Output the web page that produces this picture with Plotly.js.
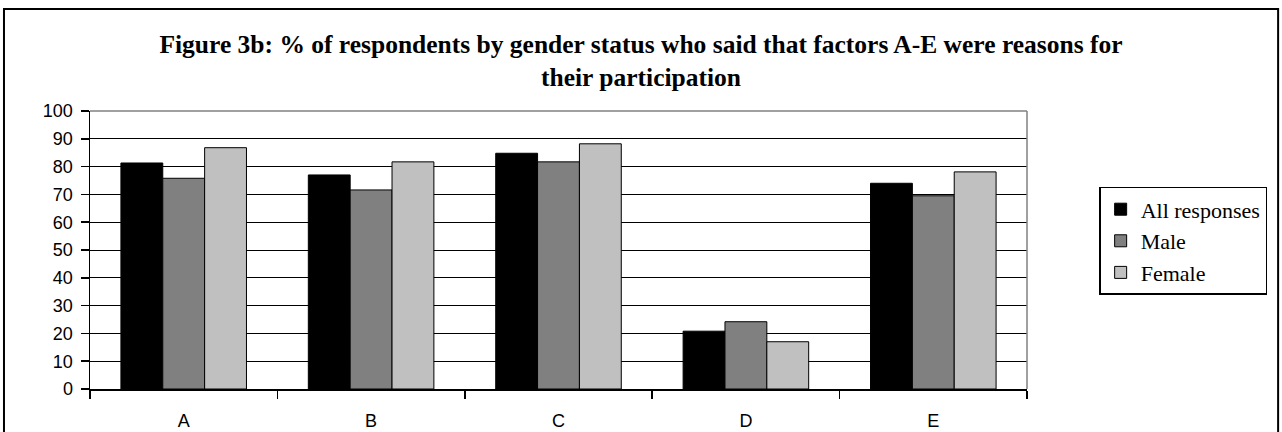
<!DOCTYPE html>
<html>
<head>
<meta charset="utf-8">
<script src="https://cdn.plot.ly/plotly-3.0.1.min.js"></script>
<style>html,body{margin:0;padding:0;background:#fff;}#chart{width:1282px;height:432px;}</style>
</head>
<body>
<div id="chart"></div>
<script>
const categories = ["A", "B", "C", "D", "E"];
const allResponses = [81.3, 77.0, 84.8, 20.8, 74.0];
const male = [75.8, 71.6, 81.7, 24.2, 69.5];
const female = [86.8, 81.7, 88.2, 17.0, 78.1];
const seriesNames = ["All responses", "Male", "Female"];
const seriesColors = ["#000000", "#808080", "#C0C0C0"];
const titleText = "Figure 3b: % of respondents by gender status who said that factors A-E were reasons for<br>their participation";

const seriesValues = [allResponses, male, female];
const traces = seriesValues.map((vals, i) => ({
  type: "bar",
  name: seriesNames[i],
  x: categories,
  y: vals,
  marker: {color: seriesColors[i], line: {color: "#000000", width: 1}},
  hoverinfo: "x+y+name"
}));

const layout = {
  width: 1282,
  height: 432,
  margin: {l: 90, r: 255, t: 111, b: 43, pad: 0},
  paper_bgcolor: "#ffffff",
  plot_bgcolor: "#ffffff",
  barmode: "group",
  bargap: 0.33,
  bargroupgap: 0,
  title: {
    text: titleText,
    x: 0.5,
    xref: "container",
    xanchor: "center",
    y: 0.878,
    yref: "container",
    yanchor: "top",
    font: {family: "Liberation Serif, serif", size: 25.5, color: "#000000", weight: "bold"}
  },
  xaxis: {
    type: "category",
    tickson: "boundaries",
    ticks: "outside",
    ticklen: 8,
    tickcolor: "#000000",
    tickwidth: 1.5,
    showline: true,
    linecolor: "#000000",
    linewidth: 1.5,
    showgrid: false,
    ticklabelstandoff: 15,
    tickfont: {family: "Liberation Sans, Arial, sans-serif", size: 18, color: "#000000"},
    fixedrange: true
  },
  yaxis: {
    range: [0, 100],
    dtick: 10,
    tick0: 0,
    ticks: "outside",
    ticklen: 8,
    tickcolor: "#000000",
    tickwidth: 1.5,
    showline: true,
    linecolor: "#000000",
    linewidth: 1.5,
    showgrid: true,
    gridcolor: "#000000",
    gridwidth: 1,
    zeroline: false,
    ticklabelstandoff: 4,
    tickfont: {family: "Liberation Sans, Arial, sans-serif", size: 18, color: "#000000"},
    fixedrange: true
  },
  legend: {
    x: 1.077,
    xanchor: "left",
    y: 0.727,
    yanchor: "top",
    bordercolor: "#000000",
    borderwidth: 1.5,
    bgcolor: "#ffffff",
    itemwidth: 30,
    tracegroupgap: 0,
    font: {family: "Liberation Serif, serif", size: 22, color: "#000000"}
  },
  shapes: [
    {type: "line", xref: "paper", yref: "paper", x0: 0, x1: 1, y0: 1, y1: 1, line: {color: "#808080", width: 1.5}, layer: "above"},
    {type: "line", xref: "paper", yref: "paper", x0: 1, x1: 1, y0: 0, y1: 1, line: {color: "#808080", width: 1.5}, layer: "above"},
    {type: "rect", xref: "paper", yref: "paper", x0: -0.0918, x1: 1.268, y0: -0.3, y1: 1.367, line: {color: "#000000", width: 2}, fillcolor: "rgba(0,0,0,0)", layer: "below"}
  ],
  showlegend: true
};

Plotly.newPlot("chart", traces, layout, {displayModeBar: false, staticPlot: true});
</script>
</body>
</html>
